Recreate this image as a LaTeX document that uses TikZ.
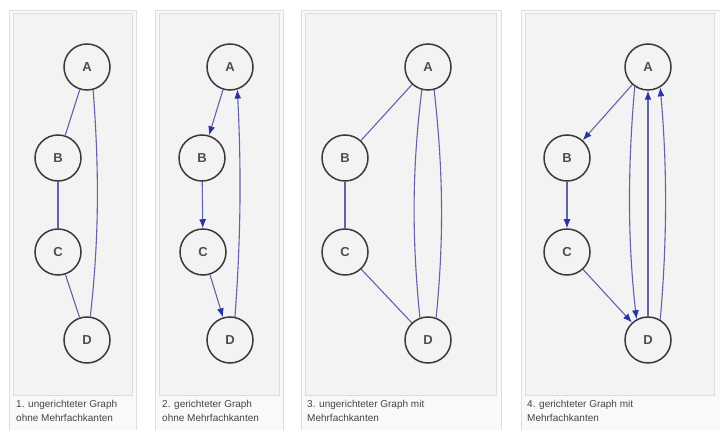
\documentclass[tikz,border=0pt]{standalone}
\usepackage{fontspec}
\setmainfont{Liberation Sans}
\usetikzlibrary{arrows.meta}

\definecolor{edgeblue}{HTML}{6262AA}
\definecolor{tipblue}{HTML}{2A32A8}
\definecolor{ringgray}{HTML}{3A3A3A}
\definecolor{framegray}{HTML}{DCDFE2}
\definecolor{thumbbg}{HTML}{F8F9FA}
\definecolor{innergray}{HTML}{DDDDDD}
\definecolor{imagebg}{HTML}{F3F3F3}
\definecolor{captiongray}{HTML}{444444}

\begin{document}
\begin{tikzpicture}[x=1pt,y=-1pt,
  vertex/.style={circle,draw=ringgray,line width=1.5pt,minimum size=46pt,
    inner sep=0pt,font=\fontsize{13}{13}\selectfont\bfseries,text=ringgray!90},
  edge/.style={draw=edgeblue,line width=1.1pt},
  arc/.style={edge,-{Latex[length=9pt,width=7pt,color=tipblue]}},
  thumb/.style={draw=framegray,fill=thumbbg,line width=0.8pt},
  imagebox/.style={draw=innergray,fill=imagebg,line width=0.8pt},
  caption/.style={anchor=north west,align=left,inner sep=0pt,
    font=\fontsize{10}{14}\selectfont,text=captiongray}]
\useasboundingbox (0,0) rectangle (720,430);
\fill[white] (0,0) rectangle (720,430);

% frames: outer thumb box and inner image area
\path[thumb] (9,10) rectangle (136,434);
\path[imagebox] (13,13) rectangle (132,395);
\path[thumb] (155,10) rectangle (283,434);
\path[imagebox] (159,13) rectangle (279,395);
\path[thumb] (301,10) rectangle (501,434);
\path[imagebox] (305,13) rectangle (496,395);
\path[thumb] (521,10) rectangle (724,434);
\path[imagebox] (525,13) rectangle (714,395);

% captions
\node[caption] (cap1) at (16,400) {1. ungerichteter Graph\\ohne Mehrfachkanten};
\node[caption] (cap2) at (162,400) {2. gerichteter Graph\\ohne Mehrfachkanten};
\node[caption] (cap3) at (307,400) {3. ungerichteter Graph mit\\Mehrfachkanten};
\node[caption] (cap4) at (527,400) {4. gerichteter Graph mit\\Mehrfachkanten};

% 1. undirected, simple
\node[vertex] (A1) at (87,67) {A};
\node[vertex] (B1) at (58,158) {B};
\node[vertex] (C1) at (58,252) {C};
\node[vertex] (D1) at (87,340) {D};
\draw[edge] (A1) -- (B1);
\draw[edge] (B1) -- (C1);
\draw[edge] (C1) -- (D1);
\draw[edge] (A1.-75) .. controls +(6,80) and +(9,-80) .. (D1.82);

% 2. directed, simple
\node[vertex] (A2) at (230,67) {A};
\node[vertex] (B2) at (202,158) {B};
\node[vertex] (C2) at (203,252) {C};
\node[vertex] (D2) at (230,340) {D};
\draw[arc] (A2) -- (B2);
\draw[arc] (B2) -- (C2);
\draw[arc] (C2) -- (D2);
\draw[arc] (D2.78) .. controls +(6,-80) and +(4,80) .. (A2.-72);

% 3. undirected with parallel edges
\node[vertex] (A3) at (428,67) {A};
\node[vertex] (B3) at (345,158) {B};
\node[vertex] (C3) at (345,252) {C};
\node[vertex] (D3) at (428,340) {D};
\draw[edge] (A3) -- (B3);
\draw[edge] (B3) -- (C3);
\draw[edge] (C3) -- (D3);
\draw[edge] (A3.-105) .. controls +(-10,80) and +(-8,-80) .. (D3.110);
\draw[edge] (A3.-75) .. controls +(9,80) and +(8,-80) .. (D3.70);

% 4. directed with parallel edges
\node[vertex] (A4) at (648,67) {A};
\node[vertex] (B4) at (567,158) {B};
\node[vertex] (C4) at (567,252) {C};
\node[vertex] (D4) at (648,340) {D};
\draw[arc] (A4) -- (B4);
\draw[arc] (B4) -- (C4);
\draw[arc] (C4) -- (D4);
\draw[arc] (A4.-124) .. controls +(-7,80) and +(-9,-80) .. (D4.119);
\draw[arc] (D4) -- (A4);
\draw[arc] (D4.59) .. controls +(7,-80) and +(7,80) .. (A4.-59);
\end{tikzpicture}
\end{document}
